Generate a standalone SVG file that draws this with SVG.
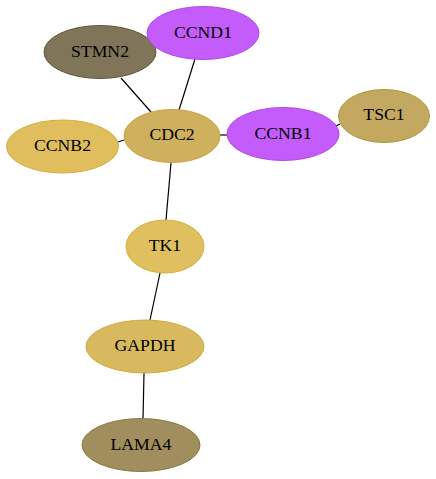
<svg xmlns="http://www.w3.org/2000/svg" width="436" height="479" viewBox="0 0 436 479">
<style>
.n ellipse{stroke-width:1}
.n text{font-family:"Liberation Serif",serif;font-size:17.7px;fill:#000;text-anchor:middle}
#edges line{stroke:#000;stroke-width:1.2}
</style>
<rect width="436" height="479" fill="#fff"/>
<g id="edges">
<line x1="121" y1="78" x2="151" y2="112"/>
<line x1="195" y1="59" x2="179" y2="110"/>
<line x1="118" y1="142" x2="124" y2="140"/>
<line x1="220" y1="135" x2="227" y2="135"/>
<line x1="334" y1="127" x2="340" y2="124"/>
<line x1="171" y1="163" x2="166" y2="220"/>
<line x1="160" y1="273" x2="150" y2="320"/>
<line x1="144" y1="373" x2="143" y2="419"/>
</g>
<g id="STMN2" class="n"><ellipse cx="100" cy="52" rx="56" ry="26.5" fill="#807558" stroke="#62573a"/><text x="100" y="57">STMN2</text></g>
<g id="CCND1" class="n"><ellipse cx="203" cy="33" rx="56" ry="26.5" fill="#c45cfc" stroke="#b248e6"/><text x="203" y="38">CCND1</text></g>
<g id="CCNB2" class="n"><ellipse cx="62.5" cy="146.5" rx="56" ry="26.5" fill="#e0be5e" stroke="#d6ae3c"/><text x="62.5" y="151">CCNB2</text></g>
<g id="CDC2" class="n"><ellipse cx="172" cy="136" rx="48" ry="26.5" fill="#cfb05c" stroke="#c8a33e"/><text x="172" y="140">CDC2</text></g>
<g id="CCNB1" class="n"><ellipse cx="283" cy="134" rx="56" ry="26.5" fill="#c45cfc" stroke="#b248e6"/><text x="283" y="139">CCNB1</text></g>
<g id="TSC1" class="n"><ellipse cx="384" cy="116" rx="45.5" ry="26.5" fill="#c2a860" stroke="#b0963a"/><text x="384" y="119.5">TSC1</text></g>
<g id="TK1" class="n"><ellipse cx="165" cy="246.5" rx="39" ry="26.5" fill="#dfbf5f" stroke="#d6af3c"/><text x="165" y="251">TK1</text></g>
<g id="GAPDH" class="n"><ellipse cx="145" cy="346.5" rx="59" ry="26.5" fill="#d8b95e" stroke="#d0aa3c"/><text x="145" y="351">GAPDH</text></g>
<g id="LAMA4" class="n"><ellipse cx="141" cy="445" rx="59" ry="26.5" fill="#a08e5e" stroke="#8c7840"/><text x="141" y="450">LAMA4</text></g>
</svg>
